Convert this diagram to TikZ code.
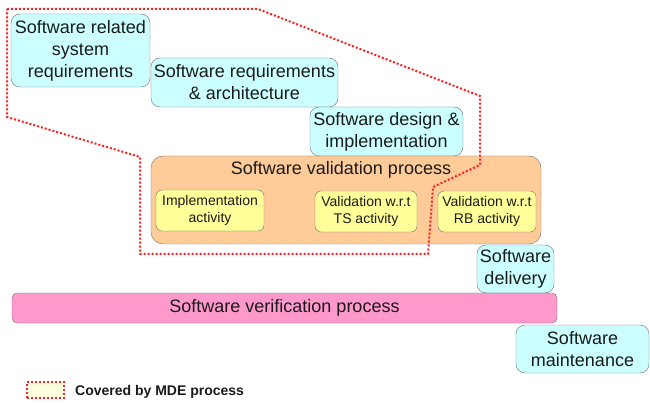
\documentclass[tikz,border=0pt]{standalone}
\usepackage{fontspec}
\setmainfont{Liberation Sans}
\usetikzlibrary{positioning}
\definecolor{phasecyan}{HTML}{CCFFFF}
\definecolor{valorange}{HTML}{FFCC99}
\definecolor{actyellow}{HTML}{FFFF99}
\definecolor{verifpink}{HTML}{FF99CC}
\definecolor{boxline}{HTML}{6E6E6E}
\definecolor{textdark}{HTML}{1A1A1A}
\definecolor{mdered}{HTML}{FF1F1F}
\definecolor{legendfill}{HTML}{FFFFE0}
\begin{document}
\begin{tikzpicture}[x=1pt, y=-1pt,
    bigfont/.style={font=\fontsize{18}{22}\selectfont},
    phase/.style={draw=boxline, fill=phasecyan, rounded corners=9pt, align=center,
        inner sep=0pt, text=textdark, bigfont},
    process/.style={draw=boxline, fill=valorange, rounded corners=12pt, inner sep=0pt},
    activity/.style={draw=boxline, fill=actyellow, rounded corners=6pt, align=center,
        inner sep=0pt, text=textdark, font=\fontsize{14}{17}\selectfont,
        minimum height=41pt},
    verif/.style={draw=boxline, fill=verifpink, rounded corners=5pt, inner sep=0pt,
        text=textdark, bigfont},
    mdeline/.style={draw=mdered, line width=2pt, dash pattern=on 2pt off 2pt}]
        \useasboundingbox (0,0) rectangle (650,403);

        % Phases
        \node[phase, minimum width=139pt, minimum height=73pt] (sysreq) at (80.5,50.5)
            {Software related\\system\\requirements};
        \node[phase, minimum width=187pt, minimum height=49pt] (swreq) at (244.5,82.5)
            {Software requirements\\\& architecture};
        \node[phase, minimum width=153pt, minimum height=49pt] (design) at (386.5,131.5)
            {Software design \&\\implementation};

        % Validation process
        \node[process, minimum width=390pt, minimum height=88pt,
            label={[anchor=north, inner sep=0pt, yshift=-5pt, xshift=-5pt, text=textdark, bigfont]north:Software validation process}]
            (valid) at (346,200) {};
        \node[activity, minimum width=108pt] (implact) at (210,210.5) {Implementation\\activity};
        \node[activity, minimum width=102pt] (valts) at (366,211.5) {Validation w.r.t\\TS activity};
        \node[activity, minimum width=98pt] (valrb) at (487,211.5) {Validation w.r.t\\RB activity};

        % Delivery, verification, maintenance
        \node[phase, minimum width=77pt, minimum height=48pt] (delivery) at (515.5,269)
            {Software\\delivery};
        \node[verif, minimum width=545pt, minimum height=30pt] (verifproc) at (284.5,308)
            {Software verification process};
        \node[phase, minimum width=133pt, minimum height=48pt] (maint) at (582.5,349)
            {Software\\maintenance};

        % Area covered by MDE
        \coordinate (m1) at (7,9);
        \coordinate (m2) at (258,9);
        \coordinate (m3) at (480,96);
        \coordinate (m4) at (480,165);
        \coordinate (m5) at (433,187);
        \coordinate (m6) at (428,254);
        \coordinate (m7) at (140,254);
        \coordinate (m8) at (140,157);
        \coordinate (m9) at (7,117);
        \draw[mdeline] (m1) -- (m2) -- (m3) -- (m4) -- (m5) -- (m6) -- (m7) -- (m8) -- (m9) -- cycle;

        % Legend
        \node[mdeline, fill=legendfill, minimum width=37pt, minimum height=16pt, inner sep=0pt]
            (legendbox) at (45.5,390) {};
        \node[right=10pt of legendbox, inner sep=0pt, text=textdark, yshift=-2pt,
            font=\bfseries\fontsize{14}{17}\selectfont] (legendtext) {Covered by MDE process};

    \end{tikzpicture}
\end{document}
